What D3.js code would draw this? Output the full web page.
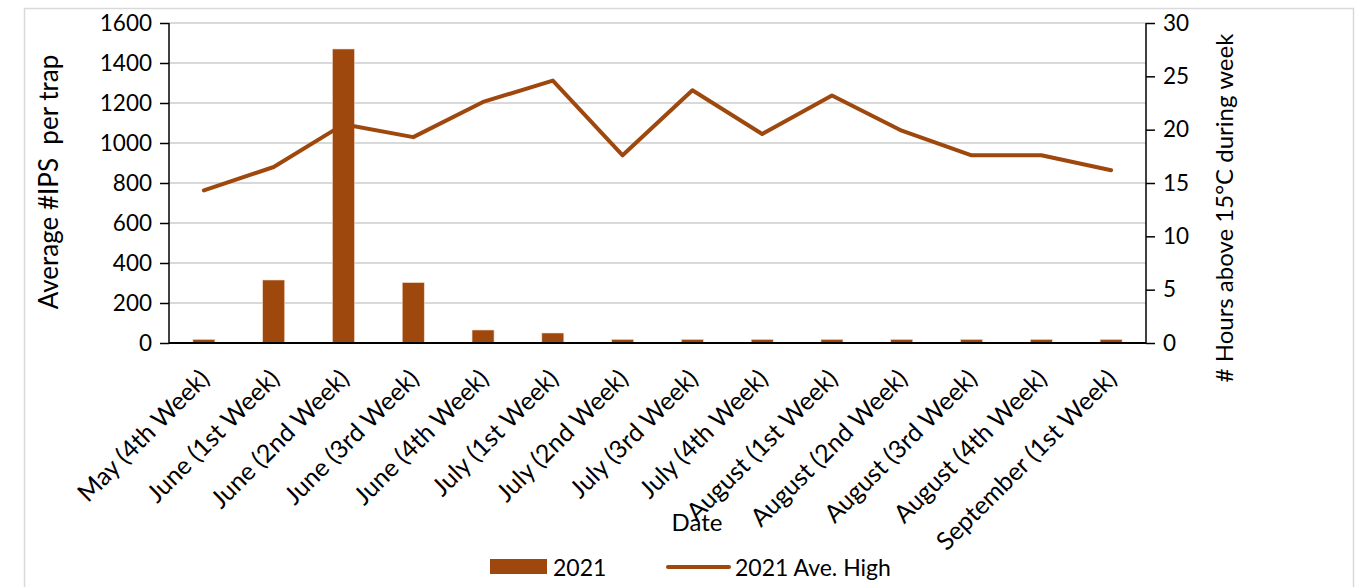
<!DOCTYPE html>
<html>
<head>
<meta charset="utf-8">
<script src="https://cdn.jsdelivr.net/npm/d3@7"></script>
<style>
  body { margin: 0; background: #fff; }
  svg { font-family: Lato, "Open Sans", sans-serif; }
</style>
</head>
<body>
<svg id="chart" width="1369" height="587"></svg>
<script>
// data
var weeks = ["May (4th Week)", "June (1st Week)", "June (2nd Week)", "June (3rd Week)",
  "June (4th Week)", "July (1st Week)", "July (2nd Week)", "July (3rd Week)",
  "July (4th Week)", "August (1st Week)", "August (2nd Week)", "August (3rd Week)",
  "August (4th Week)", "September (1st Week)"];
var ips2021 = [18, 315, 1470, 302, 65, 50, 18, 18, 18, 18, 18, 18, 18, 18];
var hoursHigh = [14.3, 16.5, 20.5, 19.3, 22.6, 24.6, 17.6, 23.7, 19.6, 23.2, 19.9, 17.6, 17.6, 16.2];
var leftTicks = [0, 200, 400, 600, 800, 1000, 1200, 1400, 1600];
var rightTicks = [0, 5, 10, 15, 20, 25, 30];

var color = "#9e480e";
var svg = d3.select("#chart");
var pLeft = 169, pRight = 1146, pTop = 23, pBottom = 343;

// outer frame
svg.append("rect").attr("x", 24.5).attr("y", 8.5).attr("width", 1329).attr("height", 600)
  .attr("fill", "none").attr("stroke", "#d9d9d9").attr("stroke-width", 1.5);

var xc = d3.scalePoint().domain(weeks).range([pLeft, pRight]).padding(0.5);
var y = d3.scaleLinear().domain([0, 1600]).range([pBottom, pTop]);
var y2 = d3.scaleLinear().domain([0, 30]).range([pBottom, pTop]);

// gridlines
svg.append("g").selectAll("line").data(leftTicks.slice(1)).enter().append("line")
  .attr("x1", pLeft).attr("x2", pRight)
  .attr("y1", function(d){ return y(d); }).attr("y2", function(d){ return y(d); })
  .attr("stroke", "#d9d9d9").attr("stroke-width", 2);

// bars
svg.append("g").selectAll("rect").data(ips2021).enter().append("rect")
  .attr("x", function(d, i){ return xc(weeks[i]) - 11; })
  .attr("width", 22)
  .attr("y", function(d){ return y(d); })
  .attr("height", function(d){ return pBottom - y(d); })
  .attr("fill", color).attr("stroke", "#f3d9c6").attr("stroke-width", 0.6);

// line
var line = d3.line().x(function(d, i){ return xc(weeks[i]); }).y(function(d){ return y2(d); });
svg.append("path").datum(hoursHigh).attr("d", line)
  .attr("fill", "none").attr("stroke", color).attr("stroke-width", 4)
  .attr("stroke-linejoin", "round").attr("stroke-linecap", "round");

// axes
var gl = svg.append("g").attr("transform", "translate(" + pLeft + ",0)")
  .call(d3.axisLeft(y).tickValues(leftTicks).tickFormat(d3.format("d")).tickSize(9).tickPadding(8));
var gr = svg.append("g").attr("transform", "translate(" + pRight + ",0)")
  .call(d3.axisRight(y2).tickValues(rightTicks).tickFormat(d3.format("d")).tickSize(9).tickPadding(8));
[gl, gr].forEach(function(g){
  g.select(".domain").attr("stroke", "#000").attr("stroke-width", 1.5)
    .attr("d", "M0," + pTop + "V" + pBottom);
  g.selectAll(".tick line").attr("stroke", "#000").attr("stroke-width", 1.5);
  g.selectAll(".tick text").attr("font-size", 22.5).attr("font-family", "Lato").attr("fill", "#000");
});

// baseline
svg.append("line").attr("x1", pLeft).attr("x2", pRight).attr("y1", pBottom).attr("y2", pBottom)
  .attr("stroke", "#000").attr("stroke-width", 2);

// x labels
svg.append("g").selectAll("text").data(weeks).enter().append("text")
  .attr("transform", function(d){ return "translate(" + (xc(d) + 1) + "," + (pBottom + 31) + ") rotate(-45)"; })
  .attr("text-anchor", "end").attr("dy", "0.35em")
  .attr("font-size", 25).text(function(d){ return d; });

// axis titles
svg.append("text").attr("transform", "translate(58,182) rotate(-90)")
  .attr("text-anchor", "middle").attr("font-size", 26).attr("xml:space", "preserve")
  .text("Average #IPS  per trap");
svg.append("text").attr("transform", "translate(1233,208) rotate(-90)")
  .attr("text-anchor", "middle").attr("font-size", 24)
  .text("# Hours above 15°C during week");
svg.append("text").attr("x", 697).attr("y", 531).attr("text-anchor", "middle")
  .attr("font-size", 24).text("Date");

// legend
var lg = svg.append("g");
lg.append("rect").attr("x", 490).attr("y", 559).attr("width", 57).attr("height", 15).attr("fill", color);
lg.append("text").attr("x", 553).attr("y", 576).attr("font-size", 23).text("2021");
lg.append("line").attr("x1", 668).attr("x2", 729).attr("y1", 567).attr("y2", 567)
  .attr("stroke", color).attr("stroke-width", 4).attr("stroke-linecap", "round");
lg.append("text").attr("x", 735).attr("y", 576).attr("font-size", 23).text("2021 Ave. High");
</script>
</body>
</html>
